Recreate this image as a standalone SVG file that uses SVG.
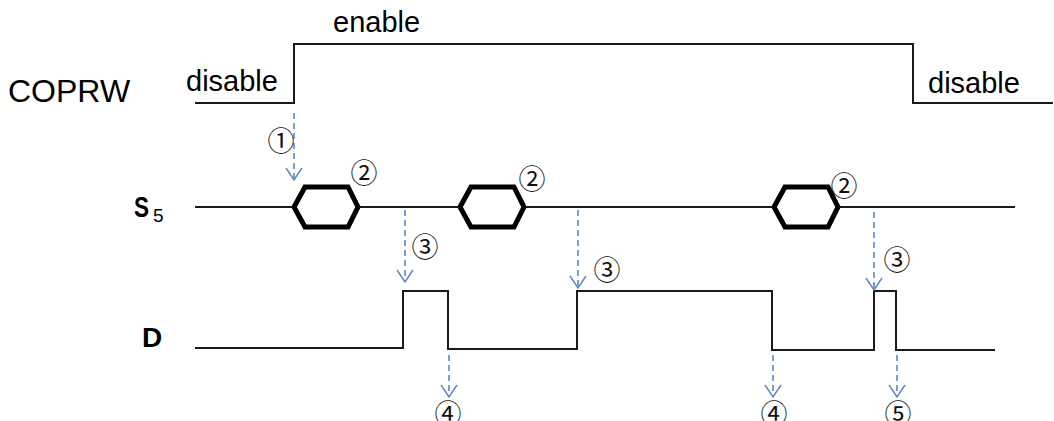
<svg xmlns="http://www.w3.org/2000/svg" width="1054" height="421" viewBox="0 0 1054 421">
<defs>
<marker id="arr" markerUnits="userSpaceOnUse" markerWidth="20" markerHeight="20" refX="0" refY="0" viewBox="-14 -10 16 20" orient="auto" overflow="visible">
<path d="M-12,-8 L0,0 L-12,8" fill="none" stroke="#5B87C5" stroke-width="1.5"/>
</marker>
</defs>
<style>
.sig{fill:none;stroke:#1a1a1a;stroke-width:2}
.hex{fill:#fff;stroke:#000;stroke-width:5;stroke-linejoin:miter}
.dash{fill:none;stroke:#5B87C5;stroke-width:1.6;stroke-dasharray:6 4;marker-end:url(#arr)}
.lbl{font-family:"Liberation Sans",Arial,sans-serif;fill:#000}
.num{font-family:"Noto Sans CJK SC","DejaVu Sans",sans-serif;font-size:27px;fill:#111;text-anchor:middle}
</style>
<rect width="1054" height="421" fill="#fff"/>
<g id="labels">
<text class="lbl" x="8" y="102" font-size="32">COPRW</text>
<text class="lbl" x="333" y="32" font-size="29">enable</text>
<text class="lbl" x="186" y="91" font-size="29">disable</text>
<text class="lbl" x="928" y="93" font-size="29">disable</text>
<text class="lbl" x="134" y="217" font-size="29" font-weight="bold" textLength="15" lengthAdjust="spacingAndGlyphs">S</text>
<text class="lbl" x="153" y="222" font-size="19" fill="#222">5</text>
<text class="lbl" x="142" y="347" font-size="28" font-weight="bold">D</text>
</g>
<g id="COPRW">
<polyline class="sig" points="195,103 294,103 294,44 913,44 913,103 1053,103"/>
</g>
<g id="S5">
<line class="sig" x1="195" y1="207" x2="1015" y2="207"/>
<polygon class="hex" points="294,207 305,187 348,187 358,207 348,227 305,227"/>
<polygon class="hex" points="460,207 471,187 514,187 524,207 514,227 471,227"/>
<polygon class="hex" points="774,207 785,187 828,187 838,207 828,227 785,227"/>
</g>
<g id="D">
<polyline class="sig" points="195,348 403,348 403,291 448,291 448,349 577,349 577,291 772,291 772,350 874,350 874,291 896,291 896,350 995,350"/>
</g>
<g id="connectors">
<line class="dash" x1="294" y1="113" x2="294" y2="180"/>
<line class="dash" x1="405" y1="210" x2="405" y2="282"/>
<line class="dash" x1="578" y1="210" x2="578" y2="288"/>
<line class="dash" x1="874" y1="212" x2="874" y2="290"/>
<line class="dash" x1="449" y1="355" x2="449" y2="397"/>
<line class="dash" x1="773" y1="355" x2="773" y2="397"/>
<line class="dash" x1="897" y1="355" x2="897" y2="397"/>
</g>
<g id="numbers">
<text class="num" x="281" y="151">①</text>
<text class="num" x="364" y="183">②</text>
<text class="num" x="532" y="189">②</text>
<text class="num" x="844" y="196">②</text>
<text class="num" x="425" y="257">③</text>
<text class="num" x="607" y="280">③</text>
<text class="num" x="897" y="270">③</text>
<text class="num" x="448" y="424">④</text>
<text class="num" x="774" y="424">④</text>
<text class="num" x="898" y="424">⑤</text>
</g>
</svg>
